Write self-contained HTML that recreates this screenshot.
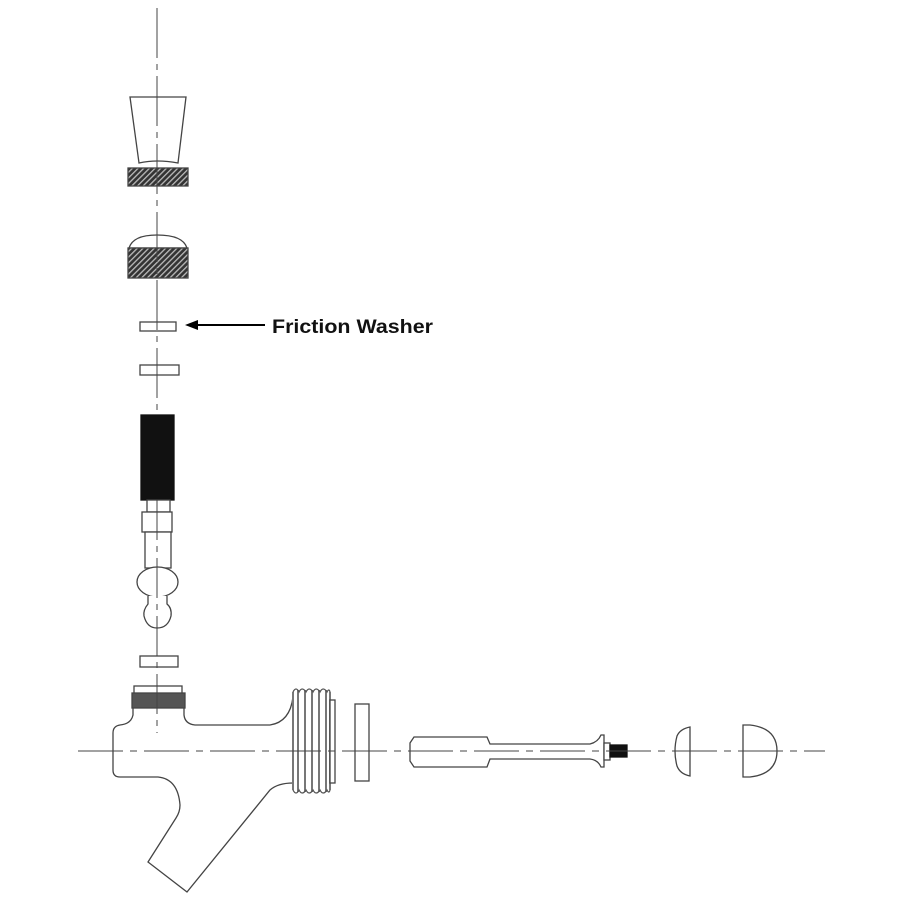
<!DOCTYPE html>
<html><head><style>html,body{margin:0;padding:0;background:#fff}svg{display:block}</style></head><body>
<svg width="900" height="900" viewBox="0 0 900 900" xmlns="http://www.w3.org/2000/svg">
<defs>
<pattern id="kn" width="4" height="4" patternUnits="userSpaceOnUse" patternTransform="rotate(45)">
<rect width="4" height="4" fill="#333"/><rect width="1.3" height="4" fill="#bbb"/>
</pattern>
</defs>
<g stroke="#444" fill="none" stroke-width="1.3">
<!-- handle -->
<path d="M130,97 L186,97 L178,163 Q157,159 139,163 Z" fill="#fff"/>
<rect x="128" y="168" width="60" height="18" fill="url(#kn)"/>
<path d="M129,248 Q133,235 157,235 Q183,235 187,248 Z" fill="#fff"/>
<rect x="128" y="248" width="60" height="30" fill="url(#kn)"/>
<rect x="140" y="322" width="36" height="9" fill="#fff"/>
<rect x="140" y="365" width="39" height="10" fill="#fff"/>
<line x1="196" y1="325" x2="265" y2="325" stroke="#000" stroke-width="2"/>
<path d="M185,325 L198,320 L198,330 Z" fill="#000" stroke="none"/>

<!-- lever -->
<rect x="141" y="415" width="33" height="85" fill="#111" stroke="#111"/>
<rect x="147" y="500" width="23" height="12" fill="#fff"/>
<rect x="142" y="512" width="30" height="20" fill="#fff"/>
<rect x="145" y="532" width="26" height="36" fill="#fff"/>
<ellipse cx="157.5" cy="582" rx="20.5" ry="15" fill="#fff"/>
<path d="M148,596 L148,604 Q143,610 144,616 Q147,628 157,628 Q168,628 171,616 Q172,608 167,604 L167,596" fill="#fff"/>
<rect x="140" y="656" width="38" height="11" fill="#fff"/>

<!-- faucet body -->
<rect x="134" y="686" width="48" height="8" fill="#fff"/>
<rect x="132" y="693" width="53" height="15" fill="#555"/>
<path d="M133,708 L133,715 Q131,724 120,725 Q113,726 113,733 L113,770 Q113,777 120,777 L158,777 Q178,779 180,805 Q180,812 176,818 L148,862 L187,892 L270,790 Q278,783 293,783"/>
<path d="M184,708 L184,715 Q185,724 195,725 L270,725 Q290,722 293,697"/>
<path d="M293,692 L293,790 M298,690 L298,792 M305,690 L305,792 M312,690 L312,792 M319,690 L319,792 M326,690 L326,792 M330,692 L330,790" stroke="#777" stroke-width="2"/>
<path d="M293,692 Q296,686 299,692 Q302,686 306,692 Q309,686 313,692 Q316,686 320,692 Q323,686 327,692 Q329,688 330,692 M293,790 Q296,796 299,790 Q302,796 306,790 Q309,796 313,790 Q316,796 320,790 Q323,796 327,790 Q329,794 330,790" stroke="#555"/>
<rect x="330" y="700" width="5" height="83" fill="#fff"/>
<rect x="355" y="704" width="14" height="77" fill="#fff"/>

<!-- shaft -->
<path d="M414,737 L487,737 L490,744 L590,744 Q598,742 601,735 L604,735 L604,767 L601,767 Q598,760 590,759 L490,759 L487,767 L414,767 L410,761 L410,743 Z" fill="#fff"/>
<rect x="604" y="743" width="6" height="17" fill="#fff"/>
<rect x="610" y="745" width="17" height="12" fill="#111" stroke="#111"/>
<path d="M690,727 L690,776 Q680,774 677,766 Q673,751 677,736 Q680,729 690,727 Z" fill="#fff"/>
<path d="M743,725 L743,777 L750,777 Q777,774 777,751 Q777,728 750,725 Z" fill="#fff"/>

<!-- centerlines on top -->
<line x1="157" y1="8" x2="157" y2="415" stroke-dasharray="50,6,6,6" stroke-width="1"/>
<line x1="157" y1="500" x2="157" y2="733" stroke-dasharray="40,6,6,6" stroke-width="1"/>
<line x1="78" y1="751" x2="825" y2="751" stroke-dasharray="45,7,7,7" stroke-width="1"/>
</g>
<text x="272" y="333" font-family="Liberation Sans, sans-serif" font-size="19" font-weight="bold" fill="#111" textLength="161" lengthAdjust="spacingAndGlyphs">Friction Washer</text>
</svg>
</body></html>
